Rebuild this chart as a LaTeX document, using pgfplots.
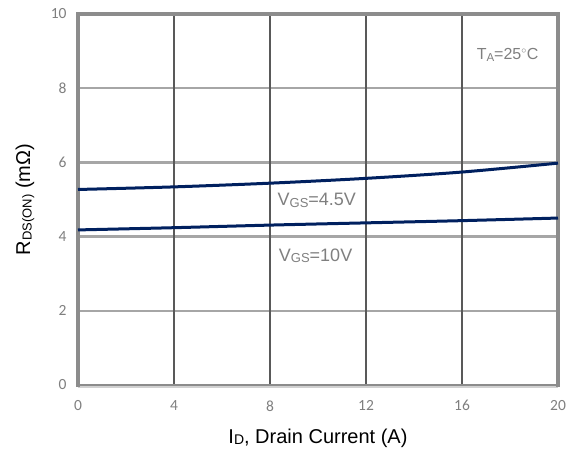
\documentclass[border=0pt]{standalone}
\usepackage{fontspec}
\setmainfont{Liberation Sans}
\newfontfamily\tickfont{Carlito}
\usepackage{pgfplots}
\pgfplotsset{compat=1.18}
\definecolor{navy}{HTML}{00205F}
\definecolor{tickgray}{HTML}{7F7F7F}
\definecolor{bordergray}{HTML}{8C8C8C}
\definecolor{vgrid}{HTML}{595959}
\definecolor{hgrid}{HTML}{A6A6A6}
\newcommand{\sub}[1]{\raisebox{-0.15ex}{\fontsize{13}{14}\selectfont #1}}
\begin{document}
\begin{tikzpicture}
\useasboundingbox (-78pt,-72pt) rectangle (497pt,385pt);
\begin{axis}[
  width=480pt, height=371pt, scale only axis,
  xmin=0, xmax=20, ymin=0, ymax=10,
  xtick={0,4,8,12,16,20}, ytick={0,2,4,6,8,10},
  tick style={draw=none},
  /pgf/number format/assume math mode=true,
  ticklabel style={font=\tickfont\fontsize{15.5}{17}\selectfont, text=tickgray},
  xticklabel style={yshift=-12pt},
  yticklabel style={xshift=-8pt},
  axis line style={draw=none},
  xmajorgrids=false, ymajorgrids=false,
  clip=false,
]
% horizontal grid
\foreach \yy in {2,4,6,8} {
  \edef\tmp{\noexpand\draw[hgrid, line width=2.5pt] (axis cs:0,\yy) -- (axis cs:20,\yy);}
  \tmp
}
% vertical grid
\foreach \xx in {4,8,12,16} {
  \edef\tmp{\noexpand\draw[vgrid, line width=1.3pt] (axis cs:\xx,0) -- (axis cs:\xx,10);}
  \tmp
}
% border
\draw[black!18, line width=3pt] ([yshift=-1.5pt]rel axis cs:0,0) -- ([yshift=-1.5pt]rel axis cs:1,0);
\draw[bordergray, line width=1.2pt] (rel axis cs:0,0) -- (rel axis cs:1,0);
\draw[bordergray, line width=3.5pt] ([yshift=-2pt]rel axis cs:0,0) -- (rel axis cs:0,1) -- (rel axis cs:1,1) -- ([yshift=-2pt]rel axis cs:1,0);

\addplot[navy, line width=3pt, smooth] coordinates {
 (0,5.27) (4,5.34) (8,5.44) (12,5.57) (16,5.74) (20,5.98)};
\addplot[navy, line width=3pt, smooth] coordinates {
 (0,4.18) (4,4.24) (8,4.31) (12,4.37) (16,4.43) (20,4.50)};

\node[text=tickgray, font=\fontsize{18}{20}\selectfont] at (axis cs:9.95,4.98) {V\sub{GS}=4.5V};
\node[text=tickgray, font=\fontsize{18}{20}\selectfont] at (axis cs:9.9,3.48) {V\sub{GS}=10V};
\node[text=tickgray, font=\fontsize{16}{18}\selectfont] at (axis cs:17.9,8.9) {T{\renewcommand{\sub}[1]{\raisebox{-0.15ex}{\fontsize{11.5}{12}\selectfont ##1}}\sub{A}}=25\textsuperscript{\fontsize{10}{10}\selectfont$\circ$}C};

\node[font=\fontsize{20}{22}\selectfont] at ([yshift=-53pt]rel axis cs:0.5,0) {I\sub{\fontsize{14}{14}\selectfont D}, Drain Current (A)};
\node[font=\fontsize{20}{22}\selectfont, rotate=90] at ([xshift=-53pt]rel axis cs:0,0.5) {R\sub{\fontsize{13}{14}\selectfont DS(ON)} (mΩ)};
\end{axis}
\end{tikzpicture}
\end{document}
